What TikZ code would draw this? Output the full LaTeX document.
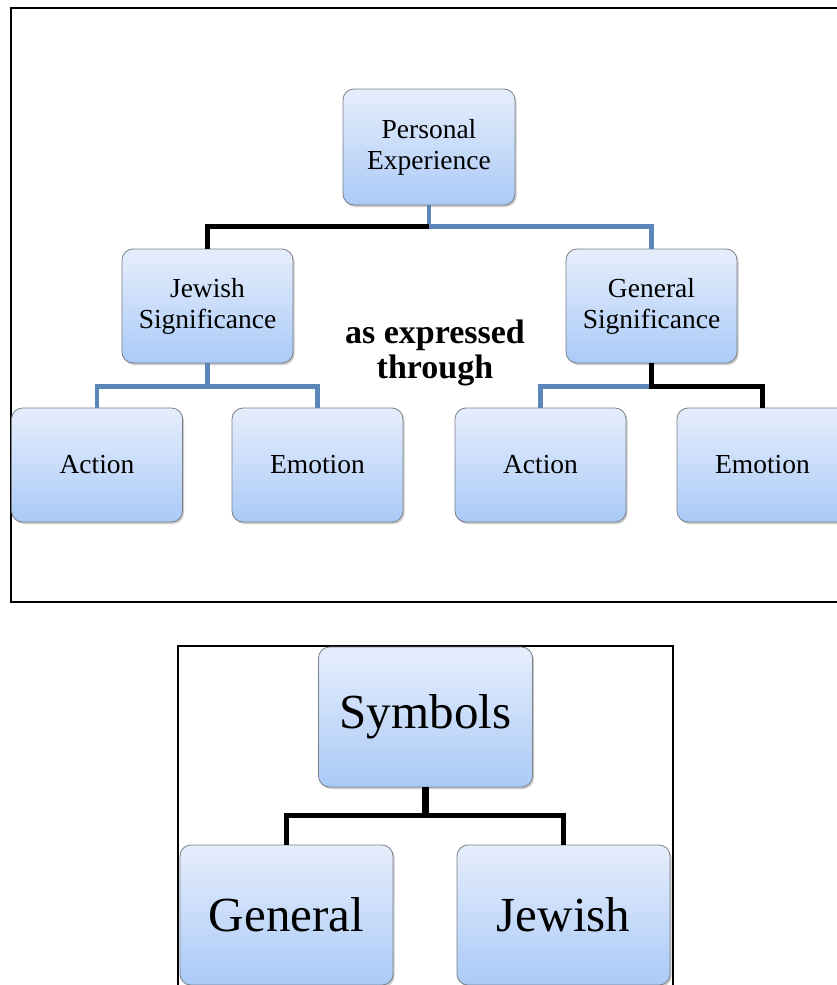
\documentclass[tikz,border=0pt]{standalone}
\usepackage{fontspec}
\setmainfont{Liberation Serif}
\usetikzlibrary{shadows}
\definecolor{boxtop}{HTML}{E6EEFC}
\definecolor{boxbot}{HTML}{AACAF7}
\definecolor{boxedge}{HTML}{7A7F88}
\definecolor{linkblue}{HTML}{5A86B8}
\tikzset{
  card/.style={draw=boxedge, line width=0.8pt, rounded corners=11pt,
    top color=boxtop, bottom color=boxbot, align=center, inner sep=0pt,
    drop shadow={shadow xshift=1.5pt, shadow yshift=-2pt, fill=black!45, opacity=0.45}},
  smallcard/.style={card, minimum width=171pt, minimum height=114pt, font=\fontsize{27.5}{31}\selectfont},
  bigcard/.style={card, minimum width=214pt, minimum height=140pt, font=\fontsize{49}{54}\selectfont},
  blueln/.style={draw=linkblue, line width=4.5pt},
  blackln/.style={draw=black, line width=4.5pt},
  frameln/.style={draw=black, line width=2pt}
}
\begin{document}
\begin{tikzpicture}[x=1pt,y=-1pt]
\useasboundingbox (0,0) rectangle (837,985);
\clip (0,0) rectangle (837,985);
\fill[white] (0,0) rectangle (837,985);
% frames
\draw[frameln] (11,8) rectangle (850,602);
\draw[frameln, line width=1.5pt] (178,646) rectangle (673,1000);
% upper tree nodes
\node[smallcard, minimum width=172pt, minimum height=116pt] (pe) at (429,147) {Personal\\Experience};
\node[smallcard] (js) at (207.5,306) {Jewish\\Significance};
\node[smallcard] (gs) at (651.5,306) {General\\Significance};
\node[smallcard] (a1) at (97,465) {Action};
\node[smallcard] (e1) at (317.5,465) {Emotion};
\node[smallcard] (a2) at (540.5,465) {Action};
\node[smallcard] (e2) at (762.5,465) {Emotion};
\node[font=\bfseries\fontsize{34}{35}\selectfont, align=center] (expr) at (435,353) {as expressed\\through};
% upper connectors
\draw[blueln] (pe.south) -- ++(0,21) -| (gs.north);
\draw[blackln] (pe.south) ++(0,21) -| (js.north);
\draw[blueln] (js.south) -- ++(0,23) -| (a1.north);
\draw[blueln] (js.south) ++(0,23) -| (e1.north);
\draw[blueln] (gs.south) -- ++(0,23) -| (a2.north);
\draw[blackln] (gs.south) -- ++(0,23) -| (e2.north);
% lower tree
\node[bigcard] (sym) at (425.5,717) {Symbols};
\node[bigcard, minimum width=213pt] (gen) at (286.5,915) {General};
\node[bigcard, minimum width=213pt] (jew) at (563.5,915) {Jewish};
\draw[blackln] (sym.south) ++(0,28) -| (gen.north);
\draw[blackln] (sym.south) ++(0,28) -| (jew.north);
\draw[blackln, line width=6.5pt] (sym.south) -- ++(0,30);
\end{tikzpicture}
\end{document}
